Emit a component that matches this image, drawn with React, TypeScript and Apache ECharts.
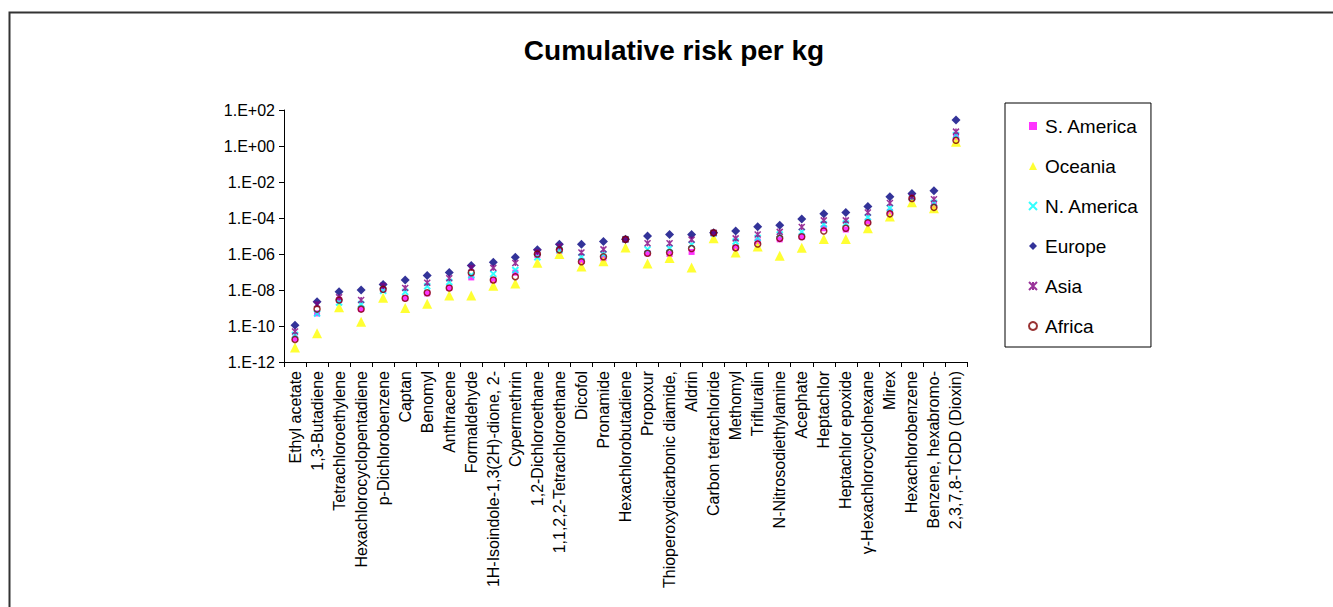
import React, { useEffect, useRef } from "react";
import * as echarts from "echarts";

const categories = [
  "Ethyl acetate", "1,3-Butadiene", "Tetrachloroethylene", "Hexachlorocyclopentadiene",
  "p-Dichlorobenzene", "Captan", "Benomyl", "Anthracene", "Formaldehyde",
  "1H-Isoindole-1,3(2H)-dione, 2-", "Cypermethrin", "1,2-Dichloroethane",
  "1,1,2,2-Tetrachloroethane", "Dicofol", "Pronamide", "Hexachlorobutadiene", "Propoxur",
  "Thioperoxydicarbonic diamide,", "Aldrin", "Carbon tetrachloride", "Methomyl", "Trifluralin",
  "N-Nitrosodiethylamine", "Acephate", "Heptachlor", "Heptachlor epoxide",
  "γ-Hexachlorocyclohexane", "Mirex", "Hexachlorobenzene", "Benzene, hexabromo-",
  "2,3,7,8-TCDD (Dioxin)",
];

const sAmerica = [
  2.0e-11, 5.0e-10, 2.8e-9, 8.7e-10, 1.0e-8, 3.5e-9, 6.5e-9, 1.3e-8, 5.0e-8, 3.5e-8,
  9.1e-8, 8.9e-7, 1.5e-6, 4.1e-7, 5.8e-7, 6.3e-6, 1.1e-6, 1.0e-6, 1.3e-6, 1.4e-5,
  2.2e-6, 5.0e-6, 6.5e-6, 9.1e-6, 2.7e-5, 2.3e-5, 6.3e-5, 2.2e-4, 1.2e-3, 4.9e-4, 3.0,
];
const oceania = [
  6.3e-12, 4.0e-11, 1.1e-9, 1.7e-10, 3.7e-9, 1.0e-9, 1.7e-9, 5.0e-9, 5.0e-9, 1.7e-8,
  2.3e-8, 3.3e-7, 1.0e-6, 2.0e-7, 3.9e-7, 2.3e-6, 3.0e-7, 6.0e-7, 1.8e-7, 7.4e-6,
  1.2e-6, 2.6e-6, 8.1e-7, 2.2e-6, 6.8e-6, 6.8e-6, 2.7e-5, 1.2e-4, 7.4e-4, 3.5e-4, 1.7,
];
const nAmerica = [
  3.2e-11, 5.0e-10, 2.0e-9, 1.6e-9, 8.9e-9, 7.9e-9, 1.6e-8, 2.8e-8, 6.6e-8, 7.9e-8,
  1.3e-7, 6.6e-7, 1.7e-6, 6.8e-7, 1.0e-6, 6.5e-6, 1.8e-6, 2.1e-6, 3.3e-6, 1.4e-5,
  5.0e-6, 7.9e-6, 1.2e-5, 1.7e-5, 4.5e-5, 5.0e-5, 1.1e-4, 3.6e-4, 1.4e-3, 6.8e-4, 4.0,
];
const europe = [
  1.1e-10, 2.2e-9, 8.1e-9, 1.0e-8, 2.0e-8, 3.6e-8, 6.3e-8, 9.5e-8, 2.3e-7, 3.5e-7,
  6.6e-7, 1.7e-6, 3.5e-6, 3.5e-6, 4.9e-6, 6.5e-6, 1.0e-5, 1.2e-5, 1.2e-5, 1.5e-5,
  1.9e-5, 3.3e-5, 3.9e-5, 8.7e-5, 1.7e-4, 2.0e-4, 4.3e-4, 1.5e-3, 2.3e-3, 3.3e-3, 27.5,
];
const asia = [
  5.0e-11, 1.6e-9, 4.0e-9, 2.8e-9, 1.7e-8, 1.3e-8, 2.5e-8, 4.5e-8, 1.7e-7, 1.7e-7,
  3.2e-7, 1.3e-6, 2.6e-6, 1.2e-6, 1.8e-6, 6.5e-6, 4.0e-6, 4.0e-6, 6.3e-6, 1.5e-5,
  7.4e-6, 1.2e-5, 1.7e-5, 3.2e-5, 7.4e-5, 7.4e-5, 2.0e-4, 6.8e-4, 1.5e-3, 1.1e-3, 6.3,
];
const africa = [
  1.8e-11, 8.7e-10, 2.8e-9, 8.7e-10, 1.1e-8, 3.5e-9, 7.1e-9, 1.3e-8, 9.1e-8, 3.6e-8,
  5.5e-8, 1.0e-6, 1.7e-6, 3.7e-7, 7.1e-7, 6.5e-6, 1.1e-6, 1.2e-6, 2.0e-6, 1.5e-5,
  2.2e-6, 3.6e-6, 7.4e-6, 9.1e-6, 1.9e-5, 2.7e-5, 5.5e-5, 1.7e-4, 1.2e-3, 3.9e-4, 2.1,
];

const FONT = "'Liberation Sans', Arial, sans-serif";
const STAR = "path://M0,0L10,10M10,0L0,10M5,0L5,10";
const XMARK = "path://M0,0L10,10M10,0L0,10";

function fmtExp(v: number): string {
  const e = Math.round(Math.log10(v));
  return "1.E" + (e >= 0 ? "+" : "-") + String(Math.abs(e)).padStart(2, "0");
}

export default function App() {
  const ref = useRef<HTMLDivElement>(null);
  useEffect(() => {
    if (!ref.current) return;
    const chart = echarts.init(ref.current, null, { renderer: "svg" });
    const option: any = {
      animation: false,
      backgroundColor: "#ffffff",
      title: {
        text: "Cumulative risk per kg",
        left: 669,
        textAlign: "center",
        top: 31,
        textStyle: { fontFamily: FONT, fontSize: 28, fontWeight: "bold", color: "#000" },
      },
      graphic: [
        {
          type: "rect",
          shape: { x: 9.5, y: 12.5, width: 1400, height: 700 },
          style: { fill: "none", stroke: "#333", lineWidth: 2 },
          silent: true,
          z: -1,
        },
      ],
      legend: {
        orient: "vertical",
        left: 1005,
        top: 103,
        padding: [13, 12, 11, 23],
        itemGap: 20,
        itemWidth: 8,
        itemHeight: 8,
        borderColor: "#000",
        borderWidth: 1,
        textStyle: { fontFamily: FONT, fontSize: 19, color: "#000", lineHeight: 20, padding: [0, 0, 0, 3] },
        data: ["S. America", "Oceania", "N. America", "Europe", "Asia", "Africa"],
      },
      grid: { left: 284, right: 366, top: 110, bottom: 245, containLabel: false },
      xAxis: {
        type: "category",
        data: categories,
        boundaryGap: true,
        axisLine: { lineStyle: { color: "#000", width: 1 } },
        axisTick: { show: true, length: 5, interval: 0, lineStyle: { color: "#000" } },
        axisLabel: {
          interval: 0,
          rotate: 90,
          margin: 9,
          fontFamily: FONT,
          fontSize: 16,
          color: "#000",
        },
        splitLine: { show: false },
      },
      yAxis: {
        type: "log",
        logBase: 10,
        min: 1e-12,
        max: 100,
        interval: 2,
        axisLine: { show: true, lineStyle: { color: "#000", width: 1 } },
        axisTick: { show: true, length: 5, lineStyle: { color: "#000" } },
        axisLabel: { formatter: fmtExp, fontFamily: FONT, fontSize: 16, color: "#000", margin: 9 },
        splitLine: { show: false },
        minorTick: { show: false },
      },
      series: [
        {
          name: "S. America",
          type: "scatter",
          data: sAmerica,
          symbol: "rect",
          symbolSize: 6,
          itemStyle: { color: "#FF00FF" },
        },
        {
          name: "Oceania",
          type: "scatter",
          data: oceania,
          symbol: "triangle",
          symbolSize: 10,
          itemStyle: { color: "#FFFF00" },
        },
        {
          name: "N. America",
          type: "scatter",
          data: nAmerica,
          symbol: XMARK,
          symbolSize: 6,
          itemStyle: { color: "transparent", borderColor: "#00FFFF", borderWidth: 2 },
        },
        {
          name: "Europe",
          type: "scatter",
          data: europe,
          symbol: "diamond",
          symbolSize: 9,
          itemStyle: { color: "#000080" },
        },
        {
          name: "Asia",
          type: "scatter",
          data: asia,
          symbol: STAR,
          symbolSize: 6,
          itemStyle: { color: "transparent", borderColor: "#800080", borderWidth: 1.5 },
        },
        {
          name: "Africa",
          type: "scatter",
          data: africa,
          symbol: "circle",
          symbolSize: 6,
          itemStyle: { color: "transparent", borderColor: "#800000", borderWidth: 1.5 },
        },
      ],
    };
    chart.setOption(option);
    return () => chart.dispose();
  }, []);
  return (
    <div
      ref={ref}
      style={{ position: "absolute", left: 0, top: 0, width: 1333, height: 607 }}
    />
  );
}
